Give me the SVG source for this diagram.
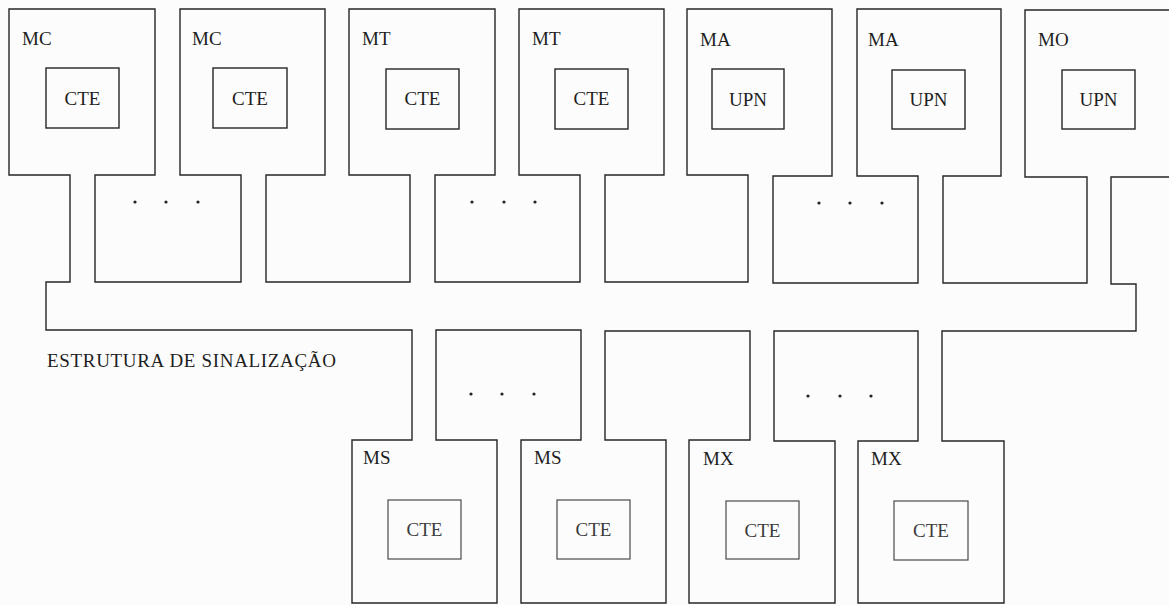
<svg xmlns="http://www.w3.org/2000/svg" width="1169" height="605" viewBox="0 0 1169 605">
<style>
.ln{fill:none;stroke:#262626;stroke-width:1.4;stroke-linejoin:miter}
.lnb{fill:none;stroke:#4a4a4a;stroke-width:1.2}
.t{font-family:"Liberation Serif","Times New Roman",serif;font-size:19px;fill:#1e1e1e}
.tb{font-family:"Liberation Serif","Times New Roman",serif;font-size:19px;fill:#3c3c3c}
.c{text-anchor:middle}
.dot{fill:#222}
</style>
<rect x="0" y="0" width="1169" height="605" fill="#fcfcfc"/>
<g id="connectors">
<path class="ln" d="M9,9 H155 V175 H95 V282 H241 V175 H180 V9 H325 V175 H266 V282 H410 V175 H349 V9 H495 V175 H435 V282 H580 V175 H519 V9 H664 V175 H605 V282 H748 V175 H687 V9 H832 V176 H773 V283 H918 V176 H857 V9 H1001 V176 H943 V283 H1087 V177 H1025 V10 H1185 V177 H1111 V284 H1136 V331 H942 V441 H1004 V603 H858 V441 H918 V331 H774 V441 H835 V603 H689 V440 H750 V331 H605 V440 H666 V603 H521 V440 H581 V330 H436 V440 H497 V603 H352 V440 H412 V330 H46 V282 H70 V175 H9 Z"/>
</g>
<g id="dots">
<circle class="dot" cx="135" cy="202" r="1.6"/><circle class="dot" cx="166" cy="202" r="1.6"/><circle class="dot" cx="198" cy="202" r="1.6"/>
<circle class="dot" cx="472" cy="202" r="1.6"/><circle class="dot" cx="504" cy="202" r="1.6"/><circle class="dot" cx="535" cy="202" r="1.6"/>
<circle class="dot" cx="819" cy="203" r="1.6"/><circle class="dot" cx="850" cy="203" r="1.6"/><circle class="dot" cx="882" cy="203" r="1.6"/>
<circle class="dot" cx="471" cy="394" r="1.6"/><circle class="dot" cx="502" cy="394" r="1.6"/><circle class="dot" cx="534" cy="394" r="1.6"/>
<circle class="dot" cx="808" cy="396" r="1.6"/><circle class="dot" cx="840" cy="396" r="1.6"/><circle class="dot" cx="871" cy="396" r="1.6"/>
</g>
<g id="label-estrutura">
<text class="t" x="47" y="367" textLength="289" lengthAdjust="spacing">ESTRUTURA DE SINALIZAÇÃO</text>
</g>
<g id="mc1"><text class="t" x="22" y="45">MC</text><rect class="ln" x="46" y="68" width="73" height="60"/><text class="t c" x="82.5" y="105">CTE</text></g>
<g id="mc2"><text class="t" x="192" y="45">MC</text><rect class="ln" x="213" y="68" width="74" height="60"/><text class="t c" x="250" y="105">CTE</text></g>
<g id="mt1"><text class="t" x="362" y="45">MT</text><rect class="ln" x="386" y="69" width="73" height="60"/><text class="t c" x="422.5" y="105">CTE</text></g>
<g id="mt2"><text class="t" x="532" y="45">MT</text><rect class="ln" x="555" y="69" width="73" height="60"/><text class="t c" x="591.5" y="105">CTE</text></g>
<g id="ma1"><text class="t" x="700" y="46">MA</text><rect class="ln" x="712" y="69" width="72" height="60"/><text class="t c" x="748" y="106">UPN</text></g>
<g id="ma2"><text class="t" x="868" y="46">MA</text><rect class="ln" x="892" y="70" width="73" height="59"/><text class="t c" x="928.5" y="106">UPN</text></g>
<g id="mo"><text class="t" x="1038" y="46">MO</text><rect class="ln" x="1062" y="70" width="73" height="59"/><text class="t c" x="1098.5" y="106">UPN</text></g>
<g id="ms1"><text class="t" x="363" y="464">MS</text><rect class="lnb" x="388" y="500" width="73" height="59"/><text class="tb c" x="424.5" y="536">CTE</text></g>
<g id="ms2"><text class="t" x="534" y="464">MS</text><rect class="lnb" x="557" y="500" width="73" height="59"/><text class="tb c" x="593.5" y="536">CTE</text></g>
<g id="mx1"><text class="t" x="703" y="465">MX</text><rect class="lnb" x="726" y="501" width="73" height="58"/><text class="tb c" x="762.5" y="537">CTE</text></g>
<g id="mx2"><text class="t" x="871" y="465">MX</text><rect class="lnb" x="894" y="501" width="74" height="59"/><text class="tb c" x="931" y="537">CTE</text></g>
</svg>
